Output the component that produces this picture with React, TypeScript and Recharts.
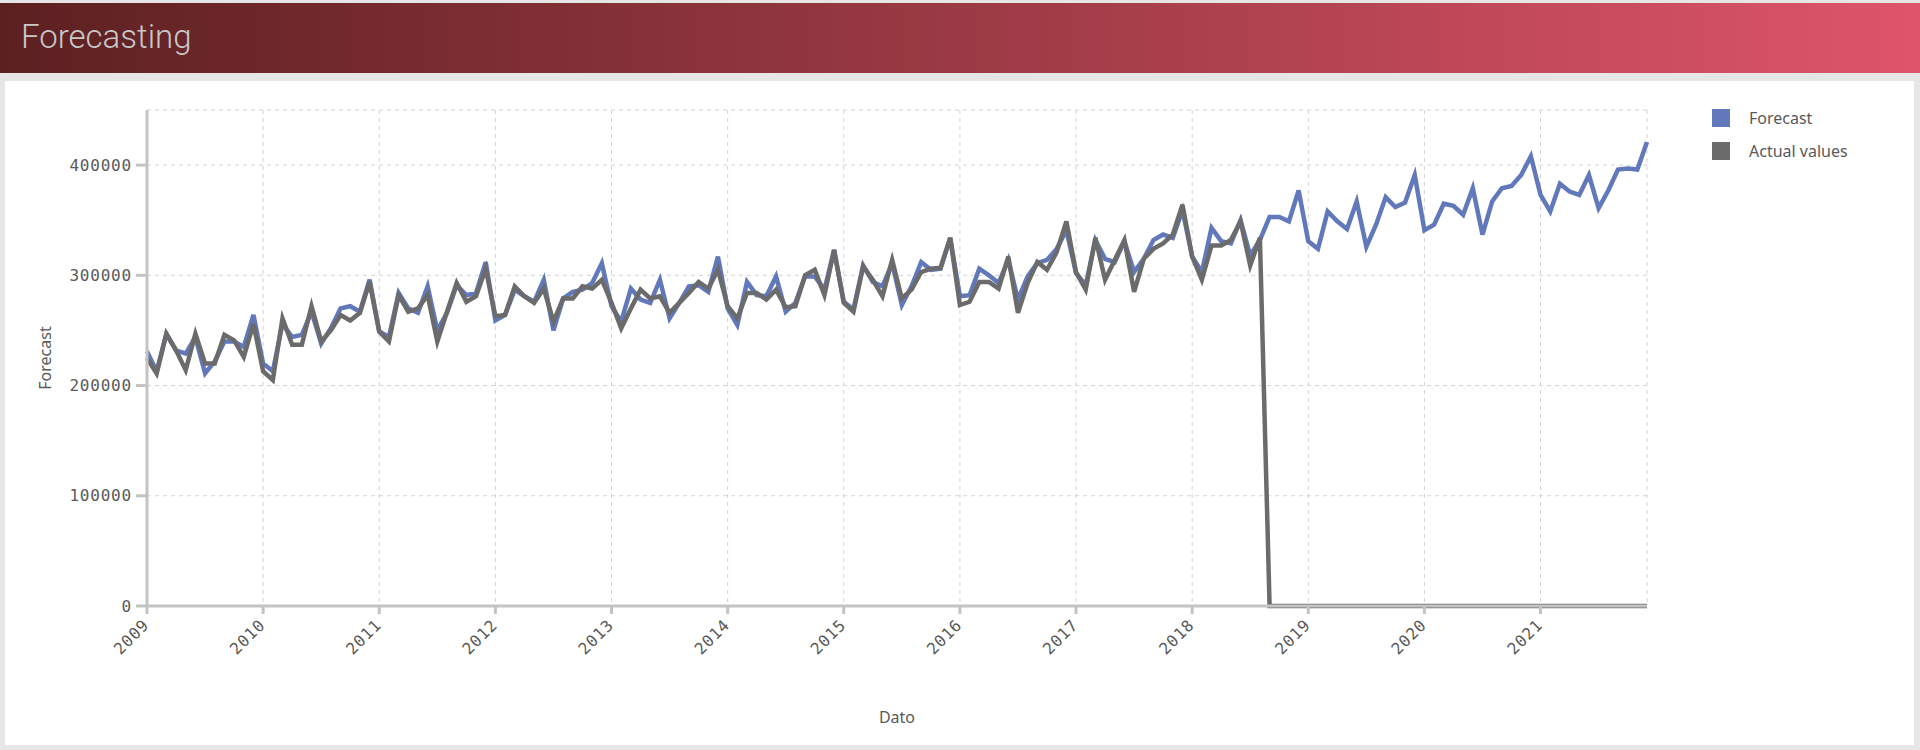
import { LineChart, Line, XAxis, YAxis, CartesianGrid, Label } from 'recharts';

// monthly points, Jan 2009 .. Dec 2021 (index = months since Jan 2009)
const yearLabels = ['2009', '2010', '2011', '2012', '2013', '2014', '2015', '2016', '2017', '2018', '2019', '2020', '2021'];
const yTicks = [0, 100000, 200000, 300000, 400000];

const forecastValues = [
	231000, 213000, 247000, 232000, 229000, 244000, 211000, 222000, 240000, 240000, 235000, 264000,
	220000, 213000, 256000, 244000, 246000, 267000, 238000, 252000, 270000, 272000, 267000, 296000,
	249000, 244000, 284000, 270000, 266000, 290000, 250000, 266000, 291000, 282000, 284000, 312000,
	259000, 264000, 287000, 281000, 276000, 296000, 250000, 279000, 285000, 287000, 293000, 311000,
	272000, 258000, 288000, 278000, 275000, 296000, 261000, 275000, 290000, 291000, 285000, 317000,
	270000, 255000, 294000, 282000, 281000, 299000, 267000, 275000, 299000, 299000, 287000, 323000,
	276000, 269000, 309000, 294000, 290000, 311000, 273000, 290000, 312000, 305000, 306000, 334000,
	281000, 282000, 306000, 300000, 293000, 314000, 278000, 299000, 311000, 314000, 324000, 341000,
	302000, 291000, 332000, 315000, 312000, 331000, 303000, 315000, 332000, 337000, 334000, 359000,
	317000, 303000, 343000, 331000, 329000, 350000, 318000, 332000, 353000, 353000, 349000, 377000,
	331000, 324000, 358000, 349000, 342000, 367000, 326000, 346000, 371000, 362000, 366000, 391000,
	341000, 346000, 365000, 363000, 355000, 379000, 337000, 367000, 379000, 381000, 391000, 408000,
	373000, 358000, 383000, 376000, 373000, 391000, 361000, 377000, 396000, 397000, 396000, 421000,
];

const actualValues = [
	225000, 211000, 247000, 232000, 214000, 247000, 220000, 220000, 246000, 241000, 226000, 256000,
	213000, 205000, 261000, 237000, 237000, 272000, 240000, 250000, 264000, 259000, 266000, 294000,
	249000, 240000, 282000, 267000, 270000, 282000, 240000, 267000, 293000, 276000, 281000, 306000,
	263000, 264000, 290000, 281000, 275000, 288000, 258000, 279000, 279000, 290000, 288000, 296000,
	275000, 252000, 270000, 287000, 279000, 281000, 266000, 275000, 284000, 294000, 288000, 305000,
	272000, 261000, 284000, 284000, 278000, 287000, 271000, 272000, 300000, 305000, 282000, 323000,
	275000, 267000, 308000, 296000, 281000, 314000, 279000, 287000, 303000, 306000, 307000, 334000,
	273000, 276000, 294000, 294000, 288000, 317000, 266000, 293000, 312000, 305000, 321000, 349000,
	303000, 287000, 334000, 296000, 314000, 332000, 285000, 315000, 324000, 329000, 337000, 364000,
	317000, 296000, 327000, 327000, 332000, 349000, 309000, 334000, 0, 0, 0, 0,
	0, 0, 0, 0, 0, 0, 0, 0, 0, 0, 0, 0,
	0, 0, 0, 0, 0, 0, 0, 0, 0, 0, 0, 0,
	0, 0, 0, 0, 0, 0, 0, 0, 0, 0, 0, 0,
];

const data = forecastValues.map((f, i) => ({ t: i, forecast: f, actual: actualValues[i] }));
const xTicks = yearLabels.map((_, i) => i * 12);

const BLUE = '#6178bb';
const GRAY = '#6b6b6b';
const TEXT = '#595959';
const AXIS = '#c3c3c3';
const MONO = "'DejaVu Sans Mono', monospace";
const SANS = "'Noto Sans', 'Open Sans', sans-serif";

function YearTick(props: any) {
	const { x, y, payload } = props;
	const label = yearLabels[Math.round(payload.value / 12)];
	return (
		<g transform={`translate(${x + 3},${y + 12})`}>
			<text
				textAnchor="end"
				transform="rotate(-45)"
				fill={TEXT}
				fontSize={16}
				fontFamily={MONO}
				letterSpacing={0.8}
			>
				{label}
			</text>
		</g>
	);
}

export default function App() {
	return (
		<div
			style={{
				position: 'absolute',
				left: 0,
				top: 0,
				width: 1920,
				height: 750,
				background: '#e6e6e6',
				overflow: 'hidden',
			}}
		>
			<div
				style={{
					position: 'absolute',
					left: 0,
					top: 3,
					width: 1920,
					height: 70,
					background: 'linear-gradient(to right, #5c2021, #9b3a44 50%, #de546b)',
				}}
			>
				<div
					style={{
						position: 'absolute',
						left: 21,
						top: 14,
						fontFamily: 'Roboto, sans-serif',
						fontWeight: 300,
						fontSize: 33,
						color: '#c8c8c8',
					}}
				>
					Forecasting
				</div>
			</div>
			<div
				style={{
					position: 'absolute',
					left: 5,
					top: 81,
					width: 1909,
					height: 664,
					background: '#ffffff',
				}}
			>
				<LineChart
					width={1909}
					height={664}
					data={data}
					margin={{ top: 29, right: 267, left: 22, bottom: 79 }}
				>
					<CartesianGrid stroke="#d4d4d4" strokeDasharray="4 4" />
					<XAxis
						dataKey="t"
						type="number"
						domain={[0, 155]}
						ticks={xTicks}
						interval={0}
						height={60}
						stroke={AXIS}
						strokeWidth={3}
						tickSize={8}
						tickMargin={0}
						tick={<YearTick />}
					>
						<Label
							value="Dato"
							position="bottom"
							offset={46}
							fill={TEXT}
							fontSize={16}
							fontFamily={SANS}
						/>
					</XAxis>
					<YAxis
						width={120}
						domain={[0, 450000]}
						ticks={yTicks}
						interval={0}
						stroke={AXIS}
						strokeWidth={3}
						tickSize={11}
						tickMargin={4}
						tick={{ fill: TEXT, fontSize: 16, fontFamily: MONO, letterSpacing: 0.8 }}
					>
						<Label
							value="Forecast"
							angle={-90}
							position="insideLeft"
							offset={18}
							fill={TEXT}
							fontSize={16}
							fontFamily={SANS}
							style={{ textAnchor: 'middle' }}
						/>
					</YAxis>
					<Line
						type="linear"
						dataKey="forecast"
						stroke={BLUE}
						strokeWidth={4.5}
						dot={false}
						isAnimationActive={false}
					/>
					<Line
						type="linear"
						dataKey="actual"
						stroke={GRAY}
						strokeWidth={4.5}
						dot={false}
						isAnimationActive={false}
					/>
				</LineChart>
				<div style={{ position: 'absolute', left: 1707, top: 28, fontFamily: SANS, fontSize: 16, color: TEXT }}>
					<div style={{ display: 'flex', alignItems: 'center', height: 18, marginBottom: 15 }}>
						<div style={{ width: 18, height: 18, background: BLUE, marginRight: 19 }} />
						<span>Forecast</span>
					</div>
					<div style={{ display: 'flex', alignItems: 'center', height: 18 }}>
						<div style={{ width: 18, height: 18, background: GRAY, marginRight: 19 }} />
						<span>Actual values</span>
					</div>
				</div>
			</div>
		</div>
	);
}
